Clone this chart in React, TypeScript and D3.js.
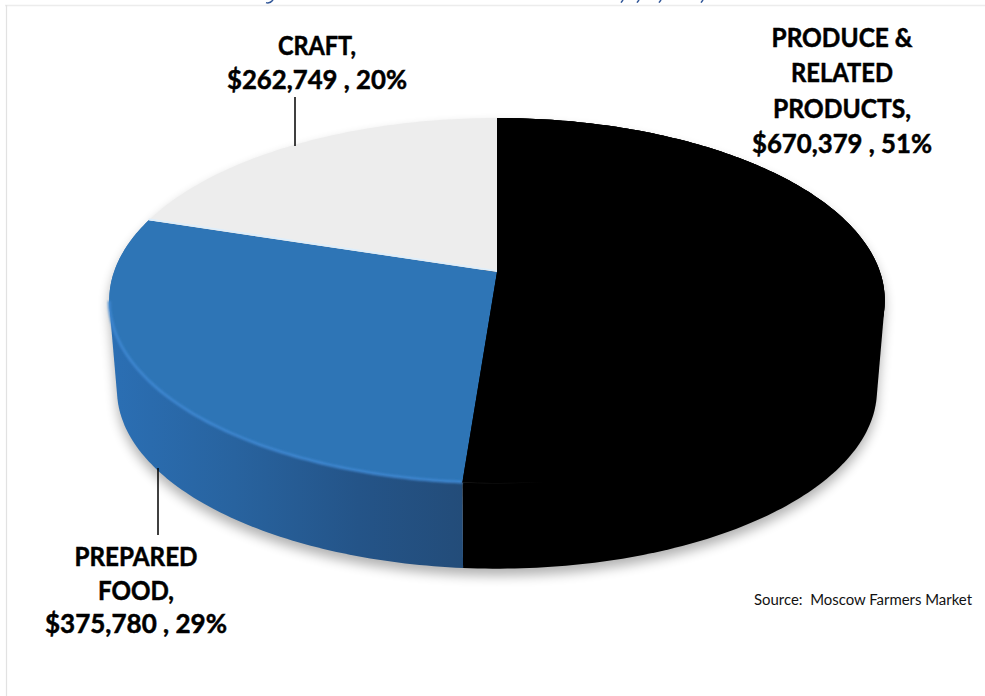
import React from "react";
import * as d3 from "d3";

// Sales by vendor category, clockwise from twelve o'clock
const categories = ["PRODUCE & RELATED PRODUCTS,", "PREPARED FOOD,", "CRAFT,"];
const salesValues = [670379, 375780, 262749];
const topColors = ["#000000", "#2E75B6", "#EDEDED"];
const labelLines = [["PRODUCE &", "RELATED", "PRODUCTS,"], ["PREPARED", "FOOD,"], ["CRAFT,"]];
const sourceNote = "Source:  Moscow Farmers Market";
// Descender stubs of the heading, whose line sits above the top edge of the chart
const headingStubX = [622, 638, 660, 702];
const headingHookX = 270;

const W = 985;
const H = 696;

// Perspective view of the disc: far rim at y=118, hub at y=272, near rim at y=483
const hubX = 497;
const hubY = 272;
const persp = -0.156;
const radiusX = 383;
const radiusY = 178;
const thickness = 90;
const bottomScale = 0.98;

const project = (angle: number, level: number) => {
  const X = Math.sin(angle);
  const Y = -Math.cos(angle);
  const w = 1 + persp * Y;
  const s = level === 0 ? 1 : bottomScale;
  return [hubX + (s * radiusX * X) / w, hubY + level * thickness + (s * radiusY * Y) / w] as [number, number];
};

const rimPoints = (a0: number, a1: number, level: number) => {
  const n = Math.max(2, Math.ceil(Math.abs(a1 - a0) * 60));
  return d3.range(n + 1).map((i) => project(a0 + ((a1 - a0) * i) / n, level));
};

const line = d3.line<[number, number]>();
const fmtMoney = d3.format("$,");
const total = d3.sum(salesValues);
const fmtPct = d3.format(".0%");

const slices = d3
  .pie<number>()
  .sort(null)
  .startAngle(0)
  .endAngle(2 * Math.PI)(salesValues);

const topFace = (a0: number, a1: number) =>
  line([[hubX, hubY], ...rimPoints(a0, a1, 0)])! + "Z";
// The wall's outline is the hull of both rims, which also gives the tangent edges at the sides
const sideFace = (a0: number, a1: number) =>
  line(d3.polygonHull([...rimPoints(a0, a1, 0), ...rimPoints(a0, a1, 1)])!)! + "Z";

// Label blocks: centre x, first baseline, line step and fitted line widths
const labelBoxes = [
  { x: 842, y: 47, step: 35.3, widths: [141, 102, 138, 180] },
  { x: 136, y: 566, step: 33.7, widths: [123, 76, 182] },
  { x: 317, y: 55, step: 34, widths: [78, 180] },
];
const leaders = [
  { x: 158, y0: 468, y1: 535 },
  { x: 295, y0: 97, y1: 146 },
];

const blueSlice = slices[1];
const blackSlice = slices[0];
const craftSlice = slices[2];

export default function App() {
  return (
    <svg
      width={W}
      height={H}
      viewBox={`0 0 ${W} ${H}`}
      style={{ position: "absolute", left: 0, top: 0, background: "#fff" }}
    >
      <defs>
        <filter id="soft" x="-10%" y="-10%" width="120%" height="120%">
          <feGaussianBlur stdDeviation="6" />
        </filter>
        <filter id="glow" x="-5%" y="-5%" width="110%" height="110%">
          <feGaussianBlur stdDeviation="1.2" />
        </filter>
        <linearGradient id="blueSide" gradientUnits="userSpaceOnUse" x1={110} x2={465} y1={0} y2={0}>
          <stop offset="0" stopColor="#2B6FB4" />
          <stop offset="0.35" stopColor="#28639F" />
          <stop offset="0.7" stopColor="#245488" />
          <stop offset="1" stopColor="#234C79" />
        </linearGradient>
        <linearGradient id="seamFade" gradientUnits="userSpaceOnUse" x1={463} x2={548} y1={0} y2={0}>
          <stop offset="0" stopColor="#2a2a2a" />
          <stop offset="1" stopColor="#000" />
        </linearGradient>
      </defs>

      {/* heading descenders along the top edge */}
      <path
        d={`M${headingHookX - 4},2.6 Q${headingHookX},3.8 ${headingHookX + 3},0`}
        fill="none"
        stroke="#2F5597"
        strokeWidth={1.5}
      />
      {headingStubX.map((x) => (
        <path key={x} d={`M${x + 1},0 L${x - 1},2.6`} fill="none" stroke="#2F5597" strokeWidth={1.5} />
      ))}

      {/* frame of the chart area */}
      <line x1={5} x2={W} y1={5.5} y2={5.5} stroke="#ececec" strokeWidth={1.6} />
      <line x1={6.5} x2={6.5} y1={5} y2={H} stroke="#e2e2e2" strokeWidth={1.2} />

      {/* ground shadow */}
      <path
        d={sideFace(0, 2 * Math.PI)}
        transform="translate(0,7)"
        fill="#000"
        opacity={0.3}
        filter="url(#soft)"
      />

      {/* wall of the disc */}
      <path d={sideFace(blackSlice.startAngle, blackSlice.endAngle)} fill="#000" />
      <path d={sideFace(blueSlice.startAngle, blueSlice.endAngle)} fill="url(#blueSide)" />

      {/* top faces */}
      {slices.map((s, i) => (
        <path key={categories[i]} d={topFace(s.startAngle, s.endAngle)} fill={topColors[i]} />
      ))}

      {/* bevel along the near rim */}
      <path
        d={line(rimPoints(blueSlice.startAngle, blueSlice.startAngle + (blueSlice.endAngle - blueSlice.startAngle) * 0.74, 0))!}
        fill="none"
        stroke="#3F88D2"
        strokeWidth={2.6}
        filter="url(#glow)"
      />
      <path
        d={line(rimPoints(blackSlice.endAngle, blackSlice.endAngle - 0.25, 0))!}
        fill="none"
        stroke="url(#seamFade)"
        strokeWidth={1}
      />

      {/* pale edge between the blue and grey faces */}
      <path
        d={line([project(craftSlice.startAngle, 0), [hubX, hubY]])!}
        fill="none"
        stroke="#DCEEFC"
        strokeWidth={1.6}
        transform="translate(0,-1)"
      />
      {/* black face sits over the join at the hub */}
      <path d={topFace(blackSlice.startAngle, blackSlice.endAngle)} fill={topColors[0]} />

      {/* leader lines */}
      {leaders.map((l) => (
        <line key={l.x} x1={l.x} x2={l.x} y1={l.y0} y2={l.y1} stroke="#000" strokeWidth={1.5} />
      ))}

      {/* data labels */}
      {labelLines.map((lines, i) => {
        const box = labelBoxes[i];
        const value = `${fmtMoney(salesValues[i])} , ${fmtPct(salesValues[i] / total)}`;
        return [...lines, value].map((t, j) => (
          <text
            key={t}
            x={box.x}
            y={box.y + j * box.step}
            textAnchor="middle"
            fontFamily="Lato"
            fontWeight={700}
            fontSize={27}
            fill="#000"
            stroke="#000"
            strokeWidth={0.5}
            textLength={box.widths[j]}
            lengthAdjust="spacingAndGlyphs"
          >
            {t}
          </text>
        ));
      })}

      <text
        x={754}
        y={605}
        fontFamily="Lato"
        fontSize={15.5}
        fill="#111"
        textLength={218}
        lengthAdjust="spacingAndGlyphs"
        style={{ whiteSpace: "pre" }}
      >
        {sourceNote}
      </text>
    </svg>
  );
}
